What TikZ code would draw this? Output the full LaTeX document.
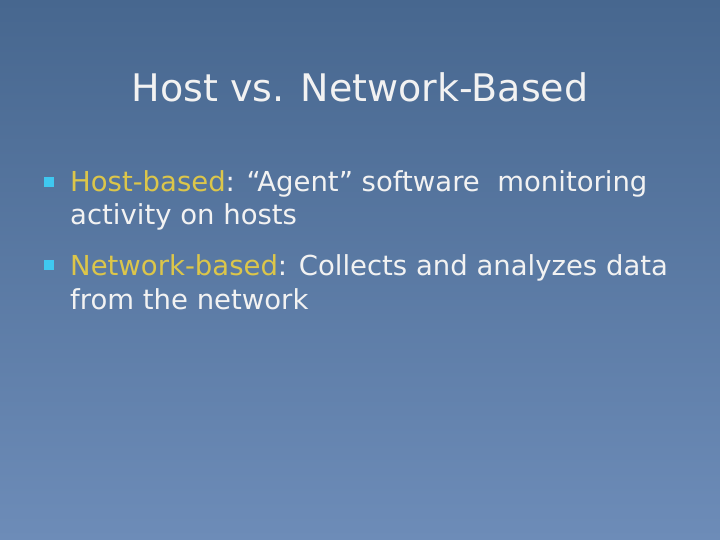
\documentclass[tikz,border=0pt]{standalone}
\usepackage{fontspec}
\setmainfont{DejaVu Sans}
\definecolor{bgtop}{HTML}{47678F}
\definecolor{bgbot}{HTML}{6D8CB8}
\definecolor{txt}{HTML}{F2F2F2}
\definecolor{hl}{HTML}{DCC64A}
\definecolor{bul}{HTML}{3FC8F0}
\tikzset{body/.style={anchor=base west,inner sep=0pt,text=txt,font=\fontsize{27.5}{32}\selectfont},
bulletsq/.style={fill=bul,minimum size=10pt,inner sep=0pt}}
\begin{document}
\begin{tikzpicture}[x=1pt,y=-1pt]
\useasboundingbox (0,0) rectangle (720,540);
\shade[top color=bgtop,bottom color=bgbot] (0,0) rectangle (720,540);
\node[text=txt,font=\fontsize{38}{46}\selectfont,anchor=base] (title) at (360,102) {Host vs. Network-Based};
\node[bulletsq] (b1) at (49,182) {};
\node[body] (l1) at (70,192) {\textcolor{hl}{Host-based}: “Agent” software\ \ monitoring};
\node[body] (l2) at (70,225) {activity on hosts};
\node[bulletsq] (b2) at (49,265) {};
\node[body] (l3) at (70,275) {\textcolor{hl}{Network-based}: Collects and analyzes data};
\node[body] (l4) at (70,309) {from the network};
\end{tikzpicture}
\end{document}
